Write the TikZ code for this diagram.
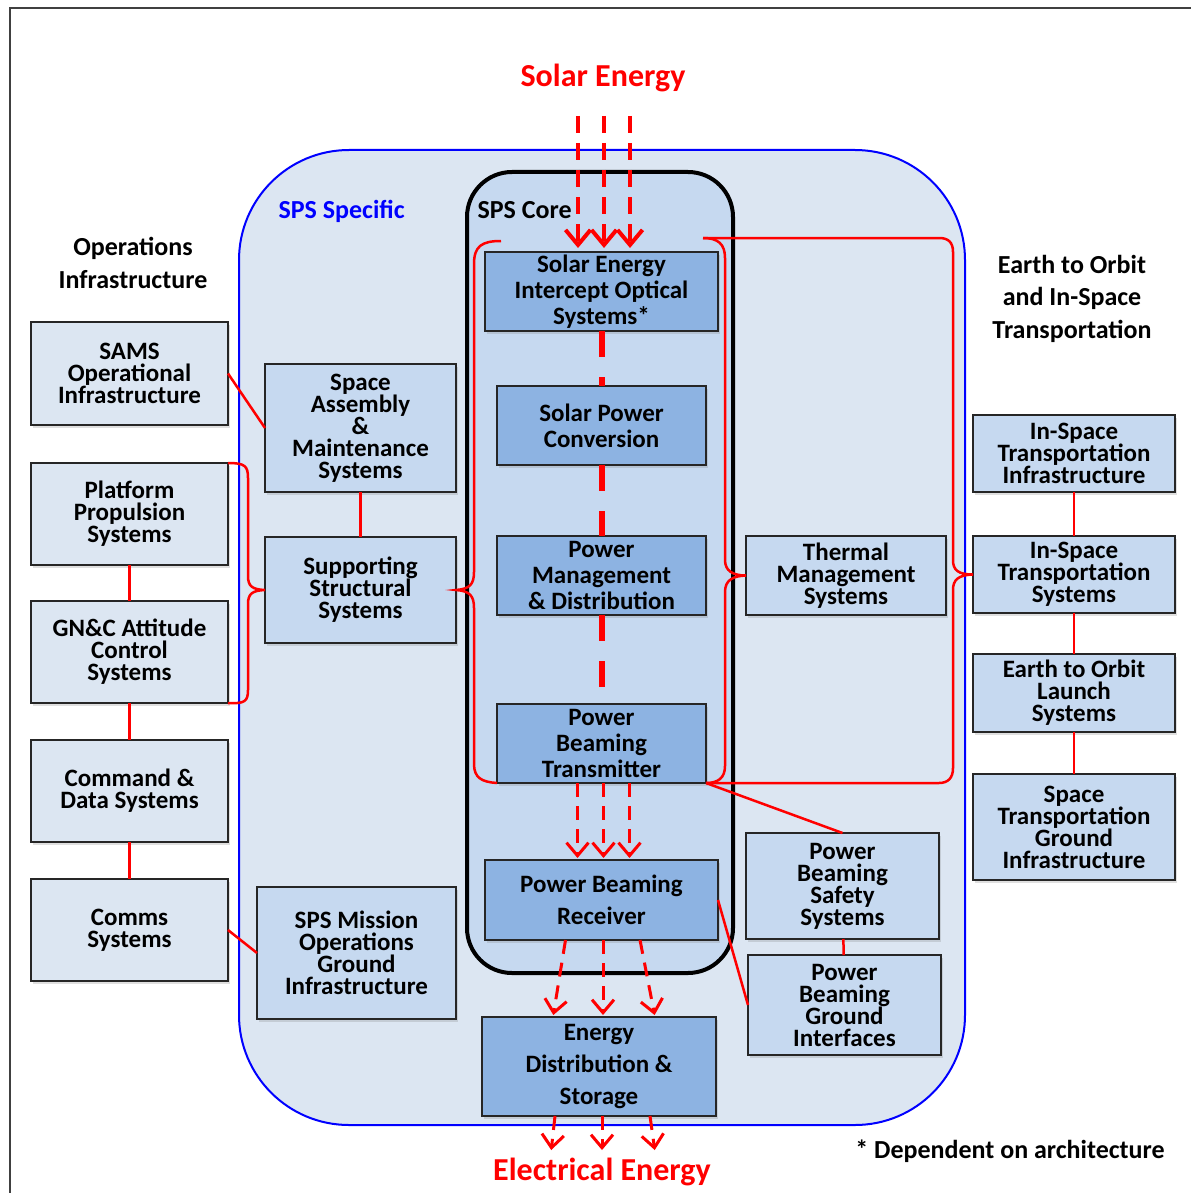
\documentclass[tikz,border=0pt]{standalone}
\usepackage{fontspec}
\setmainfont{Carlito}
\usetikzlibrary{
        arrows.meta,
        positioning,
        shadows
    }
\definecolor{specfill}{HTML}{DCE6F2}
\definecolor{coreback}{HTML}{C6D9F0}
\definecolor{coreblue}{HTML}{8DB3E2}
\definecolor{linkred}{HTML}{FF0000}
\newcommand{\sysfont}{\fontsize{25}{22}\selectfont\bfseries\lineskiplimit=-50pt\lineskip=0pt}
\newcommand{\corefont}{\fontsize{25}{26}\selectfont\bfseries\lineskiplimit=-50pt\lineskip=0pt}
\newcommand{\widefont}{\fontsize{25}{32}\selectfont\bfseries}
\newcommand{\headfont}{\fontsize{26}{32.5}\selectfont\bfseries}
\newcommand{\flowfont}{\fontsize{32}{36}\selectfont\bfseries}
\tikzset{
    sysbox/.style={draw=black!85, line width=2pt, outer sep=0pt, inner sep=2pt, align=center,
        font=\sysfont, drop shadow={shadow xshift=2pt, shadow yshift=-3pt, opacity=0.25}},
    opsbox/.style={sysbox, fill=specfill, minimum width=197pt, minimum height=102pt},
    specbox/.style={sysbox, fill=coreback},
    corebox/.style={sysbox, fill=coreblue, font=\corefont, minimum width=209pt, minimum height=79pt},
    link/.style={linkred, line width=2.5pt},
    corelink/.style={linkred, line width=6pt, dash pattern=on 26pt off 20pt},
    beam/.style={linkred, line width=3pt, dash pattern=on 14pt off 9pt, shorten >=2pt,
        -{Straight Barb[length=13pt,width=22pt,line width=3pt]}},
    sunbeam/.style={beam, line width=4pt, dash pattern=on 17pt off 10pt, shorten >=4pt,
        -{Straight Barb[length=15pt,width=25pt,line width=4pt]}}
}
\begin{document}
\begin{tikzpicture}[x=1pt,y=-1pt]
    \useasboundingbox (0,0) rectangle (1191,1193);
    \draw[black!75, line width=1.5pt] (10,1193) -- (10,8) -- (1191,8);

    % containers
    \draw[blue, line width=2pt, fill=specfill, rounded corners=110pt] (239,150) rectangle (965,1125);
    \draw[black, line width=4pt, fill=coreback, rounded corners=45pt] (467,172) rectangle (733,973);

    % titles
    \node[text=linkred, font=\flowfont] (solar) at (603,78) {Solar Energy};
    \node[text=linkred, font=\flowfont] (electric) at (602,1172) {Electrical Energy};
    \node[align=center, font=\headfont] (opshead) at (133,263) {Operations\\Infrastructure};
    \node[align=center, font=\headfont] (etohead) at (1072,298.5) {Earth to Orbit\\and In-Space\\Transportation};
    \node[anchor=west, text=blue, font=\headfont] (speclabel) at (275,211) {SPS Specific};
    \node[anchor=west, font=\headfont] (corelabel) at (474,210) {SPS Core};
    \node[font=\headfont] (note) at (1010,1151) {* Dependent on architecture};

    % operations infrastructure
    \node[opsbox, minimum height=103pt] (sams) at (129.5,373.5) {SAMS\\Operational\\Infrastructure};
    \node[opsbox, below=38pt of sams] (platform) {Platform\\Propulsion\\Systems};
    \node[opsbox, below=36pt of platform] (gnc) {GN\&C Attitude\\Control\\Systems};
    \node[opsbox, below=37pt of gnc] (command) {Command \&\\Data Systems};
    \node[opsbox, below=37pt of command] (comms) {Comms\\Systems};

    % sps specific
    \node[specbox, minimum width=191pt, minimum height=128pt] (assembly) at (360.5,428) {Space\\Assembly\\\&\\Maintenance\\Systems};
    \node[specbox, minimum width=191pt, minimum height=106pt, below=45pt of assembly] (supporting) {Supporting\\Structural\\Systems};
    \node[specbox, minimum width=199pt, minimum height=132pt] (mission) at (356.5,953) {SPS Mission\\Operations\\Ground\\Infrastructure};
    \node[specbox, minimum width=200pt, minimum height=79pt] (thermal) at (846,575.5) {Thermal\\Management\\Systems};
    \node[specbox, minimum width=193pt, minimum height=106pt] (safety) at (842.5,886) {Power\\Beaming\\Safety\\Systems};
    \node[specbox, minimum width=193pt, minimum height=100pt] (grdif) at (844.5,1005) {Power\\Beaming\\Ground\\Interfaces};

    % sps core
    \node[corebox, minimum width=233pt] (intercept) at (601.5,291.5) {Solar Energy\\Intercept Optical\\Systems*};
    \node[corebox, below=55pt of intercept] (conversion) {Solar Power\\Conversion};
    \node[corebox, below=71pt of conversion] (pmd) {Power\\Management\\\& Distribution};
    \node[corebox, below=89pt of pmd] (transmitter) {Power\\Beaming\\Transmitter};
    \node[corebox, font=\widefont, minimum width=233pt, minimum height=80pt, below=77pt of transmitter] (receiver) {Power Beaming\\Receiver};
    \node[corebox, font=\widefont, minimum width=234pt, minimum height=99pt] (energy) at (599,1066.5) {Energy\\Distribution \&\\Storage};

    % transportation
    \node[specbox, minimum width=202pt, minimum height=77pt] (insinfra) at (1074,453.5) {In-Space\\Transportation\\Infrastructure};
    \node[specbox, minimum width=202pt, minimum height=77pt, below=44pt of insinfra] (insys) {In-Space\\Transportation\\Systems};
    \node[specbox, minimum width=202pt, minimum height=78pt, below=41pt of insys] (eto) {Earth to Orbit\\Launch\\Systems};
    \node[specbox, minimum width=202pt, minimum height=106pt, below=42pt of eto] (stgi) {Space\\Transportation\\Ground\\Infrastructure};

    % links
    \draw[link] (sams.east) -- (assembly.west);
    \draw[link] (assembly) -- (supporting);
    \draw[link] (platform) -- (gnc) -- (command) -- (comms);
    \draw[link] (comms.east) -- (mission.west);
    \draw[link] (insinfra) -- (insys) -- (eto) -- (stgi);
    \draw[link] (transmitter.south east) -- (safety.north);
    \draw[link] (receiver.east) -- (grdif.west);
    \draw[link] (safety) -- (grdif);

    % braces
    \coordinate (ltop) at (501,241);
    \coordinate (rtop) at (703,238);
    \draw[link] (platform.north east) .. controls (245,463) and (248,466) .. (248,478) -- (248,576)
        .. controls (248,586) and (252,589.5) .. (supporting.west)
        .. controls (252,590.5) and (248,594) .. (248,604) -- (248,690)
        .. controls (248,701) and (245,704) .. (gnc.south east);
    \draw[link] (ltop) .. controls (482,241) and (474,246) .. (474,264) -- (474,572)
        .. controls (474,584) and (470,589) .. (supporting.east)
        .. controls (470,591) and (474,596) .. (474,608) -- (474,764)
        .. controls (474,778) and (482,782) .. (transmitter.south west);
    \draw[link] (rtop) .. controls (718,238) and (725,244) .. (725,258) -- (725,560)
        .. controls (725,571) and (733,575.5) .. (thermal.west)
        .. controls (733,576) and (725,580) .. (725,592) -- (725,766)
        .. controls (725,778) and (718,783) .. (transmitter.south east);
    \draw[link] (rtop) -- (939,238) .. controls (948,238) and (953,242) .. (953,252) -- (953,560)
        .. controls (953,570) and (958,574.5) .. (insys.west)
        .. controls (958,575) and (953,580) .. (953,590) -- (953,768)
        .. controls (953,778) and (948,783) .. (939,783) -- (transmitter.south east);

    % power flow
    \draw[corelink] (intercept) -- (conversion);
    \draw[corelink] (conversion) -- (pmd);
    \draw[corelink] (pmd) -- (transmitter);
    \foreach \i/\x in {1/578,2/604,3/630} {
        \coordinate (sun\i) at (\x,116);
        \draw[sunbeam] (sun\i) -- (sun\i |- intercept.north);
    }
    \foreach \dx in {-24,2,28}
        \draw[beam] ([xshift=\dx pt]transmitter.south) -- ([xshift=\dx pt]receiver.north);
    \foreach \da/\db in {-36/-46,1.5/4,38.5/56}
        \draw[beam] ([xshift=\da pt]receiver.south) -- ([xshift=\db pt]energy.north);
    \foreach \i/\da/\x in {1/-44/551,2/3/602,3/51/655} {
        \coordinate (out\i) at (\x,1152);
        \draw[beam] ([xshift=\da pt]energy.south) -- (out\i);
    }
\end{tikzpicture}
\end{document}
